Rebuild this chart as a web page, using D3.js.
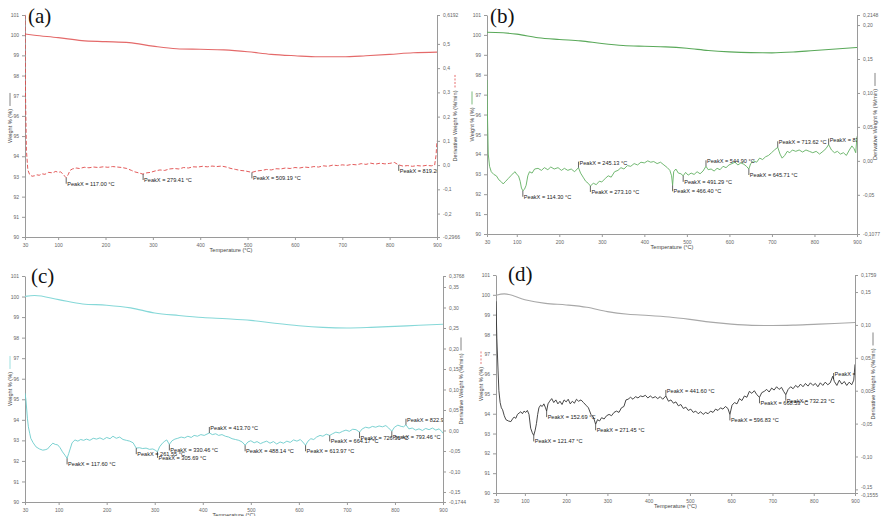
<!DOCTYPE html>
<html>
<head>
<meta charset="utf-8">
<script src="https://cdn.jsdelivr.net/npm/d3@7"></script>
<style>
  body { margin: 0; background: #fff; }
  svg { display: block; font-family: Arial, "Liberation Sans", sans-serif; }
  .tick text { font-size: 5px; fill: #666; }
  .domain, .tick line { stroke: #9a9a9a; }
  .peak text { font-size: 5.6px; fill: #222; }
</style>
</head>
<body>
<svg id="chart" width="884" height="516"></svg>
<script>
// weight curves, read at common temperatures
var weightTemps = [30, 50, 100, 150, 200, 250, 300, 350, 400, 450, 500, 550, 600, 650, 700, 750, 800, 850, 900];
var weightA = [100.06, 100.0, 99.88, 99.73, 99.68, 99.63, 99.46, 99.33, 99.30, 99.27, 99.18, 99.05, 98.98, 98.93, 98.93, 98.98, 99.05, 99.13, 99.16];
var weightB = [100.13, 100.12, 100.04, 99.86, 99.77, 99.70, 99.57, 99.47, 99.43, 99.40, 99.33, 99.22, 99.15, 99.11, 99.10, 99.14, 99.22, 99.29, 99.37];
var weightC = [100.01, 100.05, 99.85, 99.64, 99.58, 99.45, 99.20, 99.08, 98.98, 98.92, 98.84, 98.70, 98.58, 98.50, 98.47, 98.50, 98.55, 98.60, 98.65];
var weightD = [99.98, 100.05, 99.75, 99.57, 99.49, 99.37, 99.15, 99.02, 98.96, 98.88, 98.76, 98.62, 98.52, 98.46, 98.45, 98.47, 98.51, 98.55, 98.60];

// derivative curves (%/min)
var derivTempA = [30, 31, 33, 36, 40, 45, 50, 55, 60, 66, 72, 80, 88, 95, 100, 105, 110, 114, 117, 121, 125, 130, 138, 145, 155, 165, 175, 185, 195, 205, 215, 225, 235, 245, 255, 262, 270, 279, 287, 295, 305, 315, 325, 335, 345, 355, 365, 375, 385, 395, 405, 415, 425, 435, 445, 455, 465, 475, 485, 495, 509, 520, 530, 540, 550, 560, 570, 580, 590, 600, 610, 620, 630, 640, 650, 660, 670, 680, 690, 700, 710, 720, 730, 740, 750, 760, 770, 780, 790, 800, 810, 819, 828, 838, 848, 858, 868, 878, 888, 895, 898, 900];
var derivA = [0.62, 0.30, 0.06, -0.02, -0.040, -0.046, -0.044, -0.040, -0.042, -0.036, -0.038, -0.030, -0.032, -0.026, -0.030, -0.028, -0.036, -0.046, -0.052, -0.040, -0.022, -0.016, -0.012, -0.014, -0.009, -0.011, -0.008, -0.010, -0.007, -0.009, -0.006, -0.008, -0.010, -0.014, -0.022, -0.028, -0.032, -0.037, -0.032, -0.030, -0.024, -0.020, -0.022, -0.016, -0.014, -0.016, -0.010, -0.012, -0.007, -0.008, -0.005, -0.007, -0.004, -0.006, -0.004, -0.008, -0.014, -0.018, -0.022, -0.024, -0.030, -0.024, -0.022, -0.018, -0.020, -0.015, -0.016, -0.012, -0.014, -0.010, -0.012, -0.008, -0.010, -0.006, -0.008, -0.003, -0.005, 0.000, -0.002, 0.001, -0.001, 0.003, 0.001, 0.006, 0.003, 0.008, 0.004, 0.008, 0.005, 0.007, 0.011, 0.001, -0.004, -0.002, -0.005, -0.002, -0.004, -0.001, -0.003, 0.000, 0.04, 0.10];

var derivTempB = [30, 31, 33, 36, 40, 46, 52, 58, 64, 68, 74, 80, 86, 92, 96, 100, 104, 108, 111, 114.3, 118, 122, 126, 130, 136, 142, 150, 158, 165, 173, 180, 188, 197, 205, 212, 220, 228, 236, 245.13, 250, 256, 262, 268, 273.1, 280, 287, 294, 300, 308, 315, 322, 330, 338, 345, 352, 360, 368, 376, 384, 392, 400, 408, 415, 422, 430, 438, 446, 454, 460, 464, 466.4, 469, 474, 480, 486, 491.29, 497, 503, 510, 517, 524, 531, 538, 544.9, 550, 557, 564, 571, 578, 585, 592, 599, 606, 613, 620, 627, 634, 640, 645.71, 650, 657, 664, 671, 678, 685, 692, 699, 706, 713.62, 719, 724, 730, 736, 742, 748, 756, 764, 772, 780, 788, 796, 804, 812, 820, 827, 833.3, 840, 847, 854, 861, 868, 875, 882, 888, 893, 897, 900];
var derivB = [0.119, 0.07, 0.010, -0.008, -0.016, -0.020, -0.022, -0.028, -0.031, -0.034, -0.030, -0.026, -0.022, -0.018, -0.016, -0.020, -0.022, -0.030, -0.040, -0.044, -0.042, -0.036, -0.022, -0.016, -0.018, -0.012, -0.011, -0.014, -0.010, -0.013, -0.009, -0.012, -0.010, -0.014, -0.011, -0.014, -0.012, -0.016, -0.010, -0.018, -0.024, -0.030, -0.033, -0.037, -0.033, -0.035, -0.030, -0.031, -0.026, -0.022, -0.024, -0.016, -0.014, -0.010, -0.012, -0.007, -0.008, -0.004, -0.006, -0.002, -0.003, 0.000, -0.002, -0.001, -0.004, -0.002, -0.006, -0.010, -0.014, -0.022, -0.036, -0.016, -0.012, -0.018, -0.019, -0.022, -0.017, -0.021, -0.018, -0.020, -0.016, -0.019, -0.015, -0.008, -0.013, -0.012, -0.015, -0.011, -0.013, -0.008, -0.010, -0.006, -0.004, -0.002, -0.006, -0.003, -0.005, -0.008, -0.012, -0.004, 0.000, -0.002, 0.004, 0.002, 0.006, 0.008, 0.012, 0.016, 0.020, 0.010, 0.004, 0.008, 0.014, 0.012, 0.016, 0.014, 0.016, 0.013, 0.016, 0.014, 0.012, 0.014, 0.010, 0.014, 0.018, 0.024, 0.016, 0.012, 0.014, 0.010, 0.012, 0.008, 0.016, 0.022, 0.018, 0.012, 0.036];

var derivTempC = [30, 32, 35, 37, 40, 42, 47, 53, 60, 67, 72, 77, 82, 88, 93, 98, 103, 108, 113, 117.6, 121, 124, 128, 134, 140, 146, 152, 158, 165, 172, 179, 186, 193, 200, 207, 213, 220, 227, 234, 241, 248, 255, 261.5, 268, 275, 282, 289, 296, 301, 305.69, 310, 316, 321, 325, 330.46, 336, 342, 348, 355, 362, 369, 376, 382, 389, 396, 403, 413.7, 420, 427, 433, 440, 447, 454, 461, 468, 475, 482, 488.14, 494, 500, 507, 513, 520, 526, 533, 540, 547, 554, 561, 568, 575, 582, 589, 596, 603, 608, 613.97, 619, 625, 631, 637, 644, 650, 657, 664.17, 670, 677, 684, 691, 698, 705, 712, 719, 726.31, 732, 739, 746, 753, 760, 767, 774, 781, 787, 793.46, 799, 806, 813, 818, 822.9, 829, 836, 843, 850, 857, 864, 871, 878, 885, 892, 897, 900];
var derivC = [0.091, 0.074, 0.030, 0.009, -0.008, -0.019, -0.030, -0.040, -0.045, -0.048, -0.047, -0.045, -0.038, -0.031, -0.034, -0.035, -0.042, -0.052, -0.060, -0.068, -0.056, -0.045, -0.030, -0.023, -0.026, -0.022, -0.024, -0.021, -0.024, -0.019, -0.021, -0.018, -0.022, -0.017, -0.020, -0.014, -0.019, -0.016, -0.022, -0.024, -0.026, -0.030, -0.043, -0.042, -0.044, -0.043, -0.046, -0.045, -0.048, -0.052, -0.040, -0.031, -0.026, -0.023, -0.034, -0.025, -0.021, -0.019, -0.016, -0.018, -0.014, -0.017, -0.012, -0.014, -0.010, -0.012, -0.006, -0.010, -0.008, -0.012, -0.010, -0.014, -0.016, -0.020, -0.022, -0.024, -0.028, -0.036, -0.028, -0.025, -0.030, -0.027, -0.032, -0.029, -0.026, -0.031, -0.027, -0.033, -0.028, -0.031, -0.026, -0.029, -0.023, -0.026, -0.022, -0.028, -0.036, -0.026, -0.020, -0.022, -0.016, -0.012, -0.014, -0.009, -0.012, -0.008, -0.004, -0.006, -0.002, 0.001, -0.002, 0.003, 0.002, -0.004, 0.004, 0.008, 0.006, 0.010, 0.008, 0.011, 0.009, 0.012, 0.006, -0.002, 0.008, 0.013, 0.010, 0.009, 0.014, 0.004, 0.006, 0.001, 0.004, 0.000, 0.005, 0.002, 0.006, 0.001, 0.004, -0.002, -0.007];

var derivTempD = [30, 32, 35, 37, 40, 43, 46, 50, 54, 60, 66, 70, 74, 78, 82, 86, 90, 94, 98, 102, 106, 110, 114, 118, 121.47, 125, 128, 131, 134, 138, 142, 146, 150, 152.69, 156, 160, 165, 170, 175, 180, 185, 190, 195, 200, 205, 210, 215, 220, 225, 230, 236, 242, 248, 254, 260, 266, 271.45, 276, 281, 286, 292, 298, 304, 310, 316, 322, 328, 334, 340, 345, 350, 356, 362, 368, 374, 380, 386, 392, 398, 404, 410, 416, 422, 428, 434, 441.6, 448, 454, 460, 466, 472, 478, 484, 490, 496, 502, 508, 514, 520, 526, 532, 538, 544, 550, 556, 562, 568, 574, 580, 586, 592, 596.83, 602, 608, 614, 620, 626, 632, 638, 644, 650, 656, 662, 668.53, 674, 680, 686, 692, 698, 704, 710, 716, 722, 727, 732.23, 738, 744, 750, 756, 762, 768, 774, 780, 786, 792, 798, 804, 810, 816, 822, 828, 834, 840, 846, 850, 856, 862, 868, 874, 880, 886, 892, 897, 900];
var derivD = [0.136, 0.080, 0.030, 0.000, -0.018, -0.026, -0.029, -0.038, -0.044, -0.046, -0.047, -0.043, -0.040, -0.042, -0.036, -0.034, -0.032, -0.035, -0.031, -0.033, -0.030, -0.036, -0.057, -0.064, -0.068, -0.060, -0.050, -0.036, -0.026, -0.022, -0.024, -0.020, -0.026, -0.031, -0.020, -0.016, -0.012, -0.018, -0.014, -0.020, -0.016, -0.021, -0.014, -0.017, -0.013, -0.020, -0.016, -0.019, -0.013, -0.016, -0.014, -0.018, -0.022, -0.026, -0.036, -0.040, -0.051, -0.044, -0.046, -0.041, -0.043, -0.038, -0.036, -0.038, -0.033, -0.031, -0.033, -0.026, -0.024, -0.014, -0.013, -0.010, -0.013, -0.009, -0.011, -0.008, -0.009, -0.007, -0.011, -0.008, -0.011, -0.009, -0.012, -0.009, -0.013, -0.008, -0.016, -0.014, -0.019, -0.017, -0.023, -0.021, -0.027, -0.025, -0.030, -0.028, -0.033, -0.031, -0.035, -0.032, -0.036, -0.033, -0.035, -0.031, -0.033, -0.028, -0.030, -0.026, -0.028, -0.024, -0.027, -0.036, -0.022, -0.018, -0.020, -0.012, -0.015, -0.008, -0.010, -0.001, -0.004, 0.000, -0.006, -0.010, -0.003, -0.001, 0.002, -0.002, 0.004, 0.001, 0.006, 0.002, 0.005, -0.001, -0.006, 0.002, 0.006, 0.003, 0.008, 0.005, 0.010, 0.006, 0.011, 0.007, 0.012, 0.008, 0.011, 0.006, 0.012, 0.008, 0.013, 0.009, 0.012, 0.022, 0.014, 0.008, 0.016, 0.010, 0.014, 0.008, 0.013, 0.009, 0.016, 0.040];

// peak annotations
var peaksA = [117.00, 279.41, 509.19, 819.20];
var peaksB = [114.30, 245.13, 273.10, 466.40, 491.29, 544.90, 645.71, 713.62, 833.30];
var peaksC = [117.60, 261.55, 305.69, 330.46, 413.70, 488.14, 613.97, 664.17, 726.31, 793.46, 822.90];
var peaksD = [121.47, 152.69, 271.45, 441.60, 596.83, 668.53, 732.23, 848.10];

// axis ticks
var tempTicks = [30, 100, 200, 300, 400, 500, 600, 700, 800, 900];
var weightTicks = [90, 91, 92, 93, 94, 95, 96, 97, 98, 99, 100, 101];
var derivTicksA = [-0.2966, -0.2, -0.1, 0, 0.1, 0.2, 0.3, 0.4, 0.5, 0.6192];
var derivTicksB = [-0.1077, -0.05, 0, 0.05, 0.10, 0.15, 0.20, 0.2148];
var derivTicksC = [-0.1744, -0.15, -0.10, -0.05, 0, 0.05, 0.10, 0.15, 0.20, 0.25, 0.30, 0.35, 0.3768];
var derivTicksD = [-0.1555, -0.15, -0.10, -0.05, 0, 0.05, 0.10, 0.15, 0.1759];

var panels = [
  { letter: "(a)", l: 25, r: 437, t: 15, b: 237, lx: 28, ly: 23, digits: 1,
    weight: weightA, dT: derivTempA, d: derivA, peaks: peaksA, dTicks: derivTicksA,
    wColor: "#e46a6a", dColor: "#e04848", dashed: true, leftSample: "#666", rightSample: "#e04848", rightDash: true, leftDash: false },
  { letter: "(b)", l: 487, r: 857, t: 15, b: 234, lx: 490, ly: 23, digits: 2,
    weight: weightB, dT: derivTempB, d: derivB, peaks: peaksB, dTicks: derivTicksB,
    wColor: "#5aa95a", dColor: "#62b062", dashed: false, leftSample: "#5aa95a", rightSample: "#666", rightDash: false, leftDash: false },
  { letter: "(c)", l: 25, r: 443, t: 276, b: 502, lx: 31, ly: 283, digits: 2,
    weight: weightC, dT: derivTempC, d: derivC, peaks: peaksC, dTicks: derivTicksC,
    wColor: "#86d8d8", dColor: "#6ccccc", dashed: false, leftSample: "#86d8d8", rightSample: "#666", rightDash: false, leftDash: false },
  { letter: "(d)", l: 496, r: 855, t: 275, b: 493, lx: 508, ly: 281, digits: 2,
    weight: weightD, dT: derivTempD, d: derivD, peaks: peaksD, dTicks: derivTicksD,
    wColor: "#a8a8a8", dColor: "#333", dashed: false, leftSample: "#e05a5a", rightSample: "#666", rightDash: false, leftDash: true }
];

var svg = d3.select("#chart");

function comma(v, n) {
  return v.toFixed(n).replace(".", ",");
}

function axisTitle(g, x, yMid, text, sampleColor, dashed) {
  var t = g.append("g").attr("transform", "translate(" + x + "," + yMid + ") rotate(-90)");
  var txt = t.append("text")
    .attr("text-anchor", "middle")
    .attr("dy", "0.35em")
    .style("font-size", "5.6px")
    .style("fill", "#444")
    .text(text);
  var w = txt.node().getComputedTextLength();
  t.append("line")
    .attr("x1", w / 2 + 3).attr("x2", w / 2 + 16)
    .attr("y1", 0).attr("y2", 0)
    .attr("stroke", sampleColor)
    .attr("stroke-width", 0.8)
    .attr("stroke-dasharray", dashed ? "2,1.5" : null);
}

panels.forEach(function (p, i) {
  var g = svg.append("g");

  var x = d3.scaleLinear().domain([30, 900]).range([p.l, p.r]);
  var yW = d3.scaleLinear().domain([90, 101]).range([p.b, p.t]);
  var yD = d3.scaleLinear().domain([p.dTicks[0], p.dTicks[p.dTicks.length - 1]]).range([p.b, p.t]);

  var clipId = "clip" + i;
  g.append("clipPath").attr("id", clipId)
    .append("rect").attr("x", p.l).attr("y", p.t - 1).attr("width", p.r - p.l).attr("height", p.b - p.t + 1);

  // axes
  g.append("g").attr("transform", "translate(0," + p.b + ")")
    .call(d3.axisBottom(x).tickValues(tempTicks).tickSize(3).tickSizeOuter(0).tickFormat(d3.format("d")));
  g.append("g").attr("transform", "translate(" + p.l + ",0)")
    .call(d3.axisLeft(yW).tickValues(weightTicks).tickSize(3).tickSizeOuter(0).tickFormat(d3.format("d")));
  var last = p.dTicks.length - 1;
  var rAxis = g.append("g").attr("transform", "translate(" + p.r + ",0)")
    .call(d3.axisRight(yD).tickValues(p.dTicks).tickSize(3).tickSizeOuter(0)
      .tickFormat(function (v, k) { return (k === 0 || k === last) ? comma(v, 4) : comma(v, p.digits); }));
  // keep the end label clear of a close neighbour
  var gap = yD(p.dTicks[0]) - yD(p.dTicks[1]);
  if (gap < 6.5) {
    rAxis.selectAll(".tick text").filter(function (v, k) { return k === 0; }).attr("dy", (0.32 + (6.5 - gap) / 10) + "em");
    rAxis.selectAll(".tick text").filter(function (v, k) { return k === 1; }).attr("dy", "-0.15em");
  }

  // titles
  g.append("text")
    .attr("x", (p.l + p.r) / 2).attr("y", p.b + 15)
    .attr("text-anchor", "middle")
    .style("font-size", "5.6px").style("fill", "#444")
    .text("Temperature (°C)");
  axisTitle(g, p.l - 15, (p.t + p.b) / 2, "Weight % (%)", p.leftSample, p.leftDash);
  axisTitle(g, p.r + 18, (p.t + p.b) / 2, "Derivative Weight % (%/min)", p.rightSample, p.rightDash);

  g.append("text")
    .attr("x", p.lx).attr("y", p.ly)
    .style("font-family", "'Liberation Serif', 'Times New Roman', serif")
    .style("font-size", "21px").style("fill", "#111")
    .text(p.letter);

  var plot = g.append("g").attr("clip-path", "url(#" + clipId + ")");

  // weight curve
  var wData = weightTemps.map(function (t, k) { return [t, p.weight[k]]; });
  plot.append("path")
    .datum(wData)
    .attr("fill", "none")
    .attr("stroke", p.wColor)
    .attr("stroke-width", 1.1)
    .attr("d", d3.line().curve(d3.curveMonotoneX).x(function (d) { return x(d[0]); }).y(function (d) { return yW(d[1]); }));

  // derivative curve
  var dData = p.dT.map(function (t, k) { return [t, p.d[k]]; });
  plot.append("path")
    .datum(dData)
    .attr("fill", "none")
    .attr("stroke", p.dColor)
    .attr("stroke-width", 0.9)
    .attr("stroke-dasharray", p.dashed ? "4,2" : null)
    .attr("d", d3.line().x(function (d) { return x(d[0]); }).y(function (d) { return yD(d[1]); }));

  // peak markers
  var interp = function (t) {
    var k = d3.bisectLeft(p.dT, t);
    if (k <= 0) return p.d[0];
    if (k >= p.dT.length) return p.d[p.d.length - 1];
    var t0 = p.dT[k - 1], t1 = p.dT[k];
    var f = (t - t0) / (t1 - t0);
    return p.d[k - 1] + f * (p.d[k] - p.d[k - 1]);
  };
  p.peaks.forEach(function (pk) {
    var v = interp(pk);
    var around = (interp(pk - 12) + interp(pk + 12)) / 2;
    var below = v <= around;
    var px = x(pk), py = yD(v);
    var pg = plot.append("g").attr("class", "peak");
    pg.append("line")
      .attr("x1", px).attr("x2", px)
      .attr("y1", py).attr("y2", below ? py + 6 : py - 6)
      .attr("stroke", "#222").attr("stroke-width", 0.7);
    pg.append("text")
      .attr("x", px + 1)
      .attr("y", below ? py + 8 : py - 3)
      .text("PeakX = " + pk.toFixed(2) + " °C");
  });
});
</script>
</body>
</html>
